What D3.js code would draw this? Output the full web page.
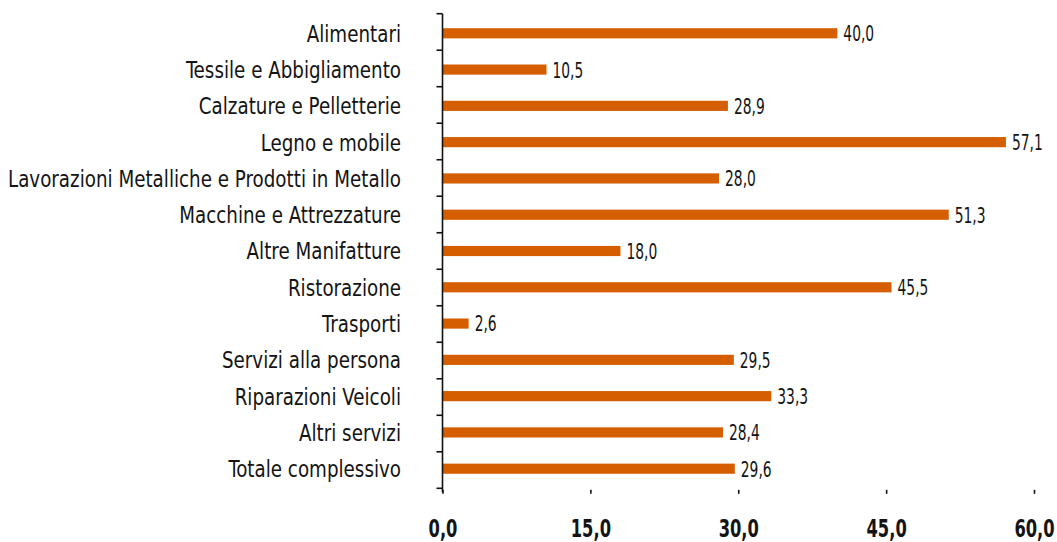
<!DOCTYPE html>
<html>
<head>
<meta charset="utf-8">
<script src="https://cdn.jsdelivr.net/npm/d3@7"></script>
<style>
  body { margin: 0; background: #fff; }
  text { font-family: "Liberation Sans Narrow", "DejaVu Sans Condensed", sans-serif; fill: #141414; }
</style>
</head>
<body>
<script>
const width = 1057;
const height = 542;
const barColor = '#d55e00';

const categories = [
  'Alimentari',
  'Tessile e Abbigliamento',
  'Calzature e Pelletterie',
  'Legno e mobile',
  'Lavorazioni Metalliche e Prodotti in Metallo',
  'Macchine e Attrezzature',
  'Altre Manifatture',
  'Ristorazione',
  'Trasporti',
  'Servizi alla persona',
  'Riparazioni Veicoli',
  'Altri servizi',
  'Totale complessivo'
];
const values = [40.0, 10.5, 28.9, 57.1, 28.0, 51.3, 18.0, 45.5, 2.6, 29.5, 33.3, 28.4, 29.6];
const xTicks = [0, 15, 30, 45, 60];

const margin = { top: 13.7, right: 23, bottom: 53.7, left: 442.5 };
const fmt = v => d3.format('.1f')(v).replace('.', ',');

// horizontal squeeze to mimic the narrow font of the original
const catScale = 0.865;
const valScale = 0.7;
const tickScale = 0.74;

const svg = d3.select('body')
  .append('svg')
  .attr('width', width)
  .attr('height', height);

const x = d3.scaleLinear()
  .domain([0, 60])
  .range([margin.left, width - margin.right]);

const y = d3.scaleBand()
  .domain(categories)
  .range([margin.top, height - margin.bottom])
  .paddingInner(0.72)
  .paddingOuter(0.4);

const y0 = margin.top;
const y1 = height - margin.bottom;
const bounds = d3.range(categories.length + 1).map(i => y0 + i * (y1 - y0) / categories.length);

const g = svg.append('g');

// bars
g.selectAll('rect.bar')
  .data(values)
  .join('rect')
    .attr('class', 'bar')
    .attr('x', x(0) + 0.5)
    .attr('y', (d, i) => y(categories[i]))
    .attr('width', d => x(d) - x(0))
    .attr('height', y.bandwidth())
    .attr('fill', barColor);

// value labels
g.selectAll('text.val')
  .data(values)
  .join('text')
    .attr('class', 'val')
    .attr('transform', (d, i) => `translate(${x(d) + 6.5},${y(categories[i]) + y.bandwidth() / 2}) scale(${valScale},1)`)
    .attr('dy', '0.36em')
    .attr('font-size', 22)
    .text(d => fmt(d));

// category labels
g.selectAll('text.cat')
  .data(categories)
  .join('text')
    .attr('class', 'cat')
    .attr('transform', d => `translate(401,${y(d) + y.bandwidth() / 2}) scale(${catScale},1)`)
    .attr('dy', '0.36em')
    .attr('text-anchor', 'end')
    .attr('font-size', 23.5)
    .text(d => d);

// y axis line and ticks
g.append('line')
  .attr('x1', x(0)).attr('x2', x(0))
  .attr('y1', y0).attr('y2', y1 + 4)
  .attr('stroke', '#111')
  .attr('stroke-width', 1.6);

g.selectAll('line.ytick')
  .data(bounds)
  .join('line')
    .attr('class', 'ytick')
    .attr('x1', x(0) - 6).attr('x2', x(0))
    .attr('y1', d => d).attr('y2', d => d)
    .attr('stroke', '#111')
    .attr('stroke-width', 1.6);

// x axis: ticks and labels, no domain line
const axisY = y1 + 1.5;
const xAxis = g.append('g')
  .attr('transform', `translate(0,${axisY})`)
  .call(d3.axisBottom(x).tickValues(xTicks).tickSize(4).tickFormat(fmt));

xAxis.select('.domain').remove();
xAxis.selectAll('.tick line').attr('stroke', '#111').attr('stroke-width', 1.6);
xAxis.selectAll('.tick text')
  .attr('y', 528 - axisY)
  .attr('dy', '0.36em')
  .attr('transform', `scale(${tickScale},1)`)
  .attr('font-size', 24.5)
  .attr('font-weight', 'bold')
  .attr('font-family', '"Liberation Sans Narrow", "DejaVu Sans Condensed", sans-serif')
  .attr('fill', '#141414');
</script>
</body>
</html>
